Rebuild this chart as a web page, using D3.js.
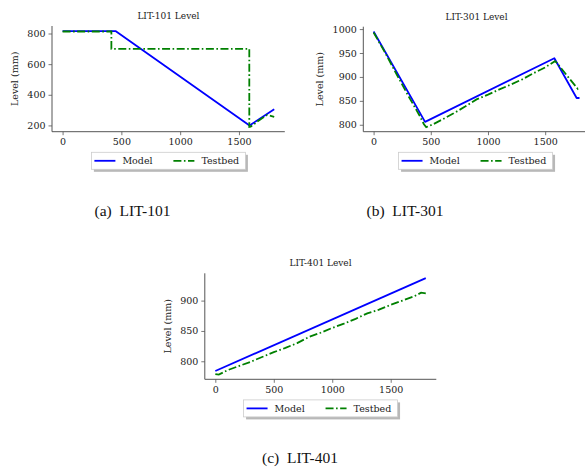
<!DOCTYPE html>
<html><head><meta charset="utf-8">
<script src="https://cdn.jsdelivr.net/npm/d3@7"></script>
<style>
html,body{margin:0;padding:0;background:#fff;}
svg{display:block;}
</style></head>
<body>
<svg id="c" width="585" height="470"></svg>
<script>
// ---------- data ----------
const xTicks = [0, 500, 1000, 1500];
const seriesNames = ["Model", "Testbed"];

const lit101Title = "LIT-101 Level";
const lit101ModelT = [0, 450, 1590, 1800];
const lit101ModelV = [816, 816, 200, 305];
const lit101TestT = [0, 415, 415, 1588, 1588, 1600, 1630, 1660, 1700, 1740, 1770, 1800];
const lit101TestV = [813, 813, 700, 700, 190, 192, 208, 228, 248, 268, 262, 256];
const lit101YTicks = [200, 400, 600, 800];

const lit301Title = "LIT-301 Level";
const lit301ModelT = [0, 450, 1580, 1775, 1800];
const lit301ModelV = [995, 806, 939, 856, 856];
const lit301TestT = [0, 100, 200, 300, 400, 440, 460, 520, 600, 700, 800, 900, 1000, 1100, 1200, 1300, 1400, 1500, 1585, 1600, 1700, 1785, 1800];
const lit301TestV = [993, 951, 906, 862, 820, 801, 795, 801, 811, 824, 838, 853, 863, 874, 884, 895, 908, 920, 933, 930, 900, 875, 879];
const lit301YTicks = [800, 850, 900, 950, 1000];

const lit401Title = "LIT-401 Level";
const lit401ModelT = [0, 1800];
const lit401ModelV = [784, 937];
const lit401TestT = [0, 30, 100, 200, 300, 400, 500, 600, 700, 800, 900, 1000, 1100, 1200, 1300, 1400, 1500, 1600, 1700, 1760, 1800];
const lit401TestV = [779, 778, 785, 792, 799, 807, 815, 822, 830, 840, 847, 855, 862, 870, 879, 885, 893, 900, 907, 913, 912];
const lit401YTicks = [800, 850, 900];

const captions = ["(a)  LIT-101", "(b)  LIT-301", "(c)  LIT-401"];

// ---------- drawing ----------
const svg = d3.select("#c");
const FONT = "DejaVu Serif";
const textCol = "#1a1a1a";
const spineCol = "#555";
const DASH = "8,2.5,1.6,2.5";

function panel(cfg) {
  const x = d3.scaleLinear().domain([-90, 1890]).range([cfg.left, cfg.right]);
  const y = d3.scaleLinear().domain(cfg.yDomain).range([cfg.bottom, cfg.top]);
  const g = svg.append("g");

  const clipId = "clip" + cfg.id;
  svg.append("clipPath").attr("id", clipId).append("rect")
    .attr("x", cfg.left).attr("y", cfg.top - 5).attr("width", cfg.right - cfg.left).attr("height", cfg.bottom - cfg.top + 5);

  // axes
  const xa = g.append("g").attr("transform", `translate(0,${cfg.bottom})`)
    .call(d3.axisBottom(x).tickValues(xTicks).tickSize(3.5).tickPadding(3).tickFormat(d3.format("d")));
  const ya = g.append("g").attr("transform", `translate(${cfg.left},0)`)
    .call(d3.axisLeft(y).tickValues(cfg.yTicks).tickSize(3.5).tickPadding(3).tickFormat(d3.format("d")));
  [xa, ya].forEach(a => {
    a.select(".domain").attr("stroke", spineCol).attr("stroke-width", 1);
    a.selectAll(".tick line").attr("stroke", spineCol).attr("stroke-width", 0.8);
    a.selectAll(".tick text").attr("fill", textCol).style("font-family", FONT).style("font-size", "9.5px");
  });
  xa.select(".domain").attr("d", `M${cfg.left},0H${cfg.right}`);
  ya.select(".domain").attr("d", `M0,${cfg.bottom}V${cfg.top}`);

  // title
  g.append("text").attr("x", (cfg.left + cfg.right) / 2).attr("y", cfg.top - 7)
    .attr("text-anchor", "middle").attr("fill", textCol)
    .style("font-family", FONT).style("font-size", "9px").text(cfg.title);
  // y label
  g.append("text").attr("transform", `translate(${cfg.ylabX},${(cfg.top + cfg.bottom) / 2}) rotate(-90)`)
    .attr("text-anchor", "middle").attr("dominant-baseline", "central").attr("fill", textCol)
    .style("font-family", FONT).style("font-size", "9.5px").text("Level (mm)");

  // lines
  const line = d3.line().x(d => x(d[0])).y(d => y(d[1]));
  const model = cfg.modelT.map((t, i) => [t, cfg.modelV[i]]);
  const test = cfg.testT.map((t, i) => [t, cfg.testV[i]]);
  const lg = g.append("g").attr("clip-path", `url(#${clipId})`);
  lg.append("path").datum(model).attr("d", line).attr("fill", "none")
    .attr("stroke", "#0000ff").attr("stroke-width", 1.8).attr("stroke-linejoin", "round");
  lg.append("path").datum(test).attr("d", line).attr("fill", "none")
    .attr("stroke", "#008000").attr("stroke-width", 1.8).attr("stroke-dasharray", DASH);

  // legend
  const lw = 154, lh = 17;
  const lx = (cfg.left + cfg.right) / 2 - lw / 2 + (cfg.legShift || 0);
  const ly = cfg.bottom + 20.6;
  const leg = g.append("g");
  leg.append("rect").attr("x", lx + 2.5).attr("y", ly + 2.5).attr("width", lw).attr("height", lh)
    .attr("fill", "#888").attr("opacity", 0.6);
  leg.append("rect").attr("x", lx).attr("y", ly).attr("width", lw).attr("height", lh)
    .attr("fill", "#fff").attr("stroke", "#ccc").attr("stroke-width", 0.8);
  const cy = ly + lh / 2;
  const items = [
    {name: seriesNames[0], col: "#0000ff", dash: null, x0: lx + 3, tx: lx + 31},
    {name: seriesNames[1], col: "#008000", dash: DASH, x0: lx + 82, tx: lx + 110}
  ];
  items.forEach(it => {
    const l = leg.append("line").attr("x1", it.x0).attr("x2", it.x0 + 21).attr("y1", cy).attr("y2", cy)
      .attr("stroke", it.col).attr("stroke-width", 1.8);
    if (it.dash) l.attr("stroke-dasharray", it.dash);
    leg.append("text").attr("x", it.tx).attr("y", cy).attr("dominant-baseline", "central")
      .attr("fill", textCol).style("font-family", FONT).style("font-size", "9.5px").text(it.name);
  });
}

panel({id: "a", left: 52, right: 284.8, top: 26, bottom: 131.7, yDomain: [159, 849], yTicks: lit101YTicks,
  title: lit101Title, ylabX: 14, modelT: lit101ModelT, modelV: lit101ModelV, testT: lit101TestT, testV: lit101TestV});
panel({id: "b", left: 363.3, right: 589.8, top: 26.7, bottom: 131.7, yDomain: [785.5, 1005], yTicks: lit301YTicks,
  title: lit301Title, ylabX: 319.5, legShift: -1, modelT: lit301ModelT, modelV: lit301ModelV, testT: lit301TestT, testV: lit301TestV});
panel({id: "c", left: 204.8, right: 436.3, top: 273.3, bottom: 379.3, yDomain: [770.3, 945], yTicks: lit401YTicks,
  title: lit401Title, ylabX: 167, modelT: lit401ModelT, modelV: lit401ModelV, testT: lit401TestT, testV: lit401TestV});

// captions
const capPos = [[132.5, 216], [405, 216], [300, 463]];
captions.forEach((c, i) => {
  svg.append("text").attr("x", capPos[i][0]).attr("y", capPos[i][1]).attr("text-anchor", "middle")
    .attr("fill", "#111").style("font-family", "Liberation Serif").style("font-size", "15.5px")
    .style("white-space", "pre").attr("xml:space", "preserve").text(c);
});
</script>
</body></html>
